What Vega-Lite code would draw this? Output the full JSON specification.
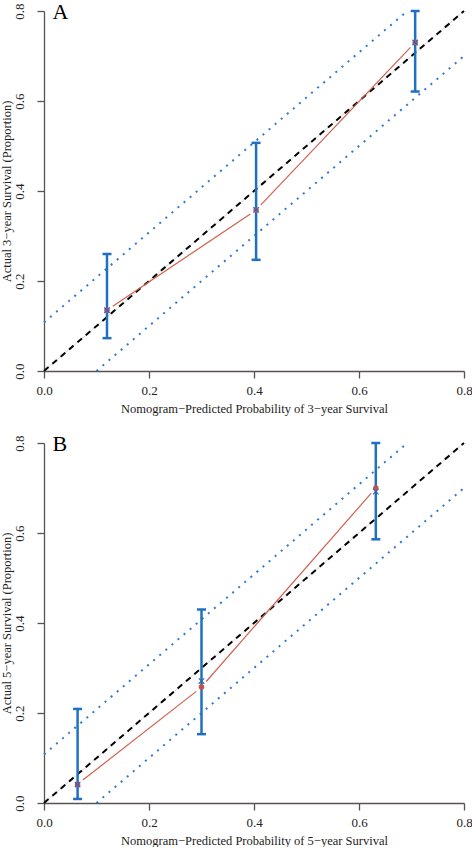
{
  "$schema": "https://vega.github.io/schema/vega-lite/v6.json",
  "background": "white",
  "padding": {"top": 1, "left": 0, "right": 0, "bottom": 0},
  "spacing": 18,
  "config": {
    "font": "Liberation Serif",
    "view": {"stroke": null},
    "axis": {
      "grid": false,
      "domain": true,
      "ticks": true,
      "domainColor": "#5a5250",
      "tickColor": "#5a5250",
      "domainWidth": 1.3,
      "tickWidth": 1.3,
      "tickSize": 7,
      "labelColor": "#222222",
      "titleColor": "#222222",
      "labelFont": "Liberation Serif",
      "titleFont": "Liberation Serif",
      "labelFontSize": 13,
      "titleFontSize": 12.5,
      "titleFontWeight": "normal",
      "labelFlush": false,
      "labelOverlap": false
    }
  },
  "datasets": {
    "lines": [
      {"panel": "A", "line": "ideal", "x": 0, "y": 0},
      {"panel": "A", "line": "ideal", "x": 0.8, "y": 0.8},
      {"panel": "A", "line": "upper", "x": 0, "y": 0.108},
      {"panel": "A", "line": "upper", "x": 0.692, "y": 0.8},
      {"panel": "A", "line": "lower", "x": 0.1, "y": 0},
      {"panel": "A", "line": "lower", "x": 0.8, "y": 0.7},
      {"panel": "B", "line": "ideal", "x": 0, "y": 0},
      {"panel": "B", "line": "ideal", "x": 0.8, "y": 0.8},
      {"panel": "B", "line": "upper", "x": 0, "y": 0.108},
      {"panel": "B", "line": "upper", "x": 0.692, "y": 0.8},
      {"panel": "B", "line": "lower", "x": 0.1, "y": 0},
      {"panel": "B", "line": "lower", "x": 0.8, "y": 0.7}
    ],
    "segs": [
      {"panel": "A", "seg": 1, "x": 0.131, "y": 0.144},
      {"panel": "A", "seg": 1, "x": 0.393, "y": 0.349},
      {"panel": "A", "seg": 2, "x": 0.413, "y": 0.369},
      {"panel": "A", "seg": 2, "x": 0.698, "y": 0.719},
      {"panel": "B", "seg": 1, "x": 0.074, "y": 0.051},
      {"panel": "B", "seg": 1, "x": 0.290, "y": 0.248},
      {"panel": "B", "seg": 2, "x": 0.309, "y": 0.270},
      {"panel": "B", "seg": 2, "x": 0.623, "y": 0.688}
    ],
    "pts": [
      {"panel": "A", "x": 0.120, "obs": 0.135, "corr": 0.135, "lo": 0.073, "hi": 0.260},
      {"panel": "A", "x": 0.404, "obs": 0.358, "corr": 0.358, "lo": 0.247, "hi": 0.507},
      {"panel": "A", "x": 0.707, "obs": 0.730, "corr": 0.730, "lo": 0.621, "hi": 0.800},
      {"panel": "B", "x": 0.064, "obs": 0.041, "corr": 0.041, "lo": 0.009, "hi": 0.209},
      {"panel": "B", "x": 0.300, "obs": 0.258, "corr": 0.271, "lo": 0.153, "hi": 0.430},
      {"panel": "B", "x": 0.632, "obs": 0.700, "corr": 0.692, "lo": 0.586, "hi": 0.800}
    ],
    "labels": [
      {"panel": "A", "label": "A"},
      {"panel": "B", "label": "B"}
    ]
  },
  "vconcat": [
    {
      "width": 420,
      "height": 360,
      "layer": [
        {
          "data": {"name": "lines"},
          "transform": [{"filter": "datum.panel === 'A' && datum.line === 'ideal'"}],
          "mark": {"type": "line", "color": "#d8d8d8", "strokeWidth": 1},
          "encoding": {
            "x": {"field": "x", "type": "quantitative", "scale": {"domain": [0, 0.8], "nice": false, "zero": false},
              "axis": {"values": [0, 0.2, 0.4, 0.6, 0.8], "format": ".1f", "title": "Nomogram−Predicted Probability of 3−year Survival", "labelPadding": 6, "titlePadding": 5}},
            "y": {"field": "y", "type": "quantitative", "scale": {"domain": [0, 0.8], "nice": false, "zero": false},
              "axis": {"values": [0, 0.2, 0.4, 0.6, 0.8], "format": ".1f", "labelAngle": -90, "title": "Actual 3−year Survival (Proportion)", "labelPadding": 11, "titlePadding": 0}}
          }
        },
        {
          "data": {"name": "lines"},
          "transform": [{"filter": "datum.panel === 'A' && datum.line === 'ideal'"}],
          "mark": {"type": "line", "color": "#000000", "strokeWidth": 2, "strokeDash": [6, 5]},
          "encoding": {"x": {"field": "x", "type": "quantitative"}, "y": {"field": "y", "type": "quantitative"}}
        },
        {
          "data": {"name": "lines"},
          "transform": [{"filter": "datum.panel === 'A' && datum.line !== 'ideal'"}],
          "mark": {"type": "line", "color": "#2b7bd0", "strokeWidth": 2, "strokeDash": [2, 6]},
          "encoding": {"x": {"field": "x", "type": "quantitative"}, "y": {"field": "y", "type": "quantitative"}, "detail": {"field": "line"}}
        },
        {
          "data": {"name": "segs"},
          "transform": [{"filter": "datum.panel === 'A'"}],
          "mark": {"type": "line", "color": "#d0604f", "strokeWidth": 1.2},
          "encoding": {"x": {"field": "x", "type": "quantitative"}, "y": {"field": "y", "type": "quantitative"}, "detail": {"field": "seg"}}
        },
        {
          "data": {"name": "pts"},
          "transform": [{"filter": "datum.panel === 'A'"}],
          "mark": {"type": "rule", "color": "#1f70c1", "strokeWidth": 2.5},
          "encoding": {"x": {"field": "x", "type": "quantitative"}, "y": {"field": "lo", "type": "quantitative"}, "y2": {"field": "hi"}}
        },
        {
          "data": {"name": "pts"},
          "transform": [{"filter": "datum.panel === 'A'"}, {"fold": ["lo", "hi"], "as": ["end", "v"]}],
          "mark": {"type": "tick", "color": "#1f70c1", "thickness": 2.5, "size": 9, "orient": "horizontal", "opacity": 1},
          "encoding": {"x": {"field": "x", "type": "quantitative"}, "y": {"field": "v", "type": "quantitative"}}
        },
        {
          "data": {"name": "pts"},
          "transform": [{"filter": "datum.panel === 'A'"}],
          "mark": {"type": "point", "shape": "circle", "filled": true, "color": "#c8504a", "size": 30, "opacity": 1},
          "encoding": {"x": {"field": "x", "type": "quantitative"}, "y": {"field": "obs", "type": "quantitative"}}
        },
        {
          "data": {"name": "pts"},
          "transform": [{"filter": "datum.panel === 'A'"}],
          "mark": {"type": "point", "shape": "M-1,-1L1,1M-1,1L1,-1", "filled": false, "color": "#3a66b0", "strokeWidth": 1.2, "size": 30, "opacity": 1},
          "encoding": {"x": {"field": "x", "type": "quantitative"}, "y": {"field": "corr", "type": "quantitative"}}
        },
        {
          "data": {"name": "labels"},
          "transform": [{"filter": "datum.panel === 'A'"}],
          "mark": {"type": "text", "font": "Liberation Serif", "fontSize": 22, "align": "left", "baseline": "alphabetic", "color": "#000000"},
          "encoding": {"x": {"datum": 0.016}, "y": {"datum": 0.782}, "text": {"field": "label"}}
        }
      ]
    },
    {
      "width": 420,
      "height": 360,
      "layer": [
        {
          "data": {"name": "lines"},
          "transform": [{"filter": "datum.panel === 'B' && datum.line === 'ideal'"}],
          "mark": {"type": "line", "color": "#d8d8d8", "strokeWidth": 1},
          "encoding": {
            "x": {"field": "x", "type": "quantitative", "scale": {"domain": [0, 0.8], "nice": false, "zero": false},
              "axis": {"values": [0, 0.2, 0.4, 0.6, 0.8], "format": ".1f", "title": "Nomogram−Predicted Probability of 5−year Survival", "labelPadding": 6, "titlePadding": 5}},
            "y": {"field": "y", "type": "quantitative", "scale": {"domain": [0, 0.8], "nice": false, "zero": false},
              "axis": {"values": [0, 0.2, 0.4, 0.6, 0.8], "format": ".1f", "labelAngle": -90, "title": "Actual 5−year Survival (Proportion)", "labelPadding": 11, "titlePadding": 0}}
          }
        },
        {
          "data": {"name": "lines"},
          "transform": [{"filter": "datum.panel === 'B' && datum.line === 'ideal'"}],
          "mark": {"type": "line", "color": "#000000", "strokeWidth": 2, "strokeDash": [6, 5]},
          "encoding": {"x": {"field": "x", "type": "quantitative"}, "y": {"field": "y", "type": "quantitative"}}
        },
        {
          "data": {"name": "lines"},
          "transform": [{"filter": "datum.panel === 'B' && datum.line !== 'ideal'"}],
          "mark": {"type": "line", "color": "#2b7bd0", "strokeWidth": 2, "strokeDash": [2, 6]},
          "encoding": {"x": {"field": "x", "type": "quantitative"}, "y": {"field": "y", "type": "quantitative"}, "detail": {"field": "line"}}
        },
        {
          "data": {"name": "segs"},
          "transform": [{"filter": "datum.panel === 'B'"}],
          "mark": {"type": "line", "color": "#d0604f", "strokeWidth": 1.2},
          "encoding": {"x": {"field": "x", "type": "quantitative"}, "y": {"field": "y", "type": "quantitative"}, "detail": {"field": "seg"}}
        },
        {
          "data": {"name": "pts"},
          "transform": [{"filter": "datum.panel === 'B'"}],
          "mark": {"type": "rule", "color": "#1f70c1", "strokeWidth": 2.5},
          "encoding": {"x": {"field": "x", "type": "quantitative"}, "y": {"field": "lo", "type": "quantitative"}, "y2": {"field": "hi"}}
        },
        {
          "data": {"name": "pts"},
          "transform": [{"filter": "datum.panel === 'B'"}, {"fold": ["lo", "hi"], "as": ["end", "v"]}],
          "mark": {"type": "tick", "color": "#1f70c1", "thickness": 2.5, "size": 9, "orient": "horizontal", "opacity": 1},
          "encoding": {"x": {"field": "x", "type": "quantitative"}, "y": {"field": "v", "type": "quantitative"}}
        },
        {
          "data": {"name": "pts"},
          "transform": [{"filter": "datum.panel === 'B'"}],
          "mark": {"type": "point", "shape": "circle", "filled": true, "color": "#c8504a", "size": 30, "opacity": 1},
          "encoding": {"x": {"field": "x", "type": "quantitative"}, "y": {"field": "obs", "type": "quantitative"}}
        },
        {
          "data": {"name": "pts"},
          "transform": [{"filter": "datum.panel === 'B'"}],
          "mark": {"type": "point", "shape": "M-1,-1L1,1M-1,1L1,-1", "filled": false, "color": "#3a66b0", "strokeWidth": 1.2, "size": 30, "opacity": 1},
          "encoding": {"x": {"field": "x", "type": "quantitative"}, "y": {"field": "corr", "type": "quantitative"}}
        },
        {
          "data": {"name": "labels"},
          "transform": [{"filter": "datum.panel === 'B'"}],
          "mark": {"type": "text", "font": "Liberation Serif", "fontSize": 22, "align": "left", "baseline": "alphabetic", "color": "#000000"},
          "encoding": {"x": {"datum": 0.016}, "y": {"datum": 0.782}, "text": {"field": "label"}}
        }
      ]
    }
  ]
}
